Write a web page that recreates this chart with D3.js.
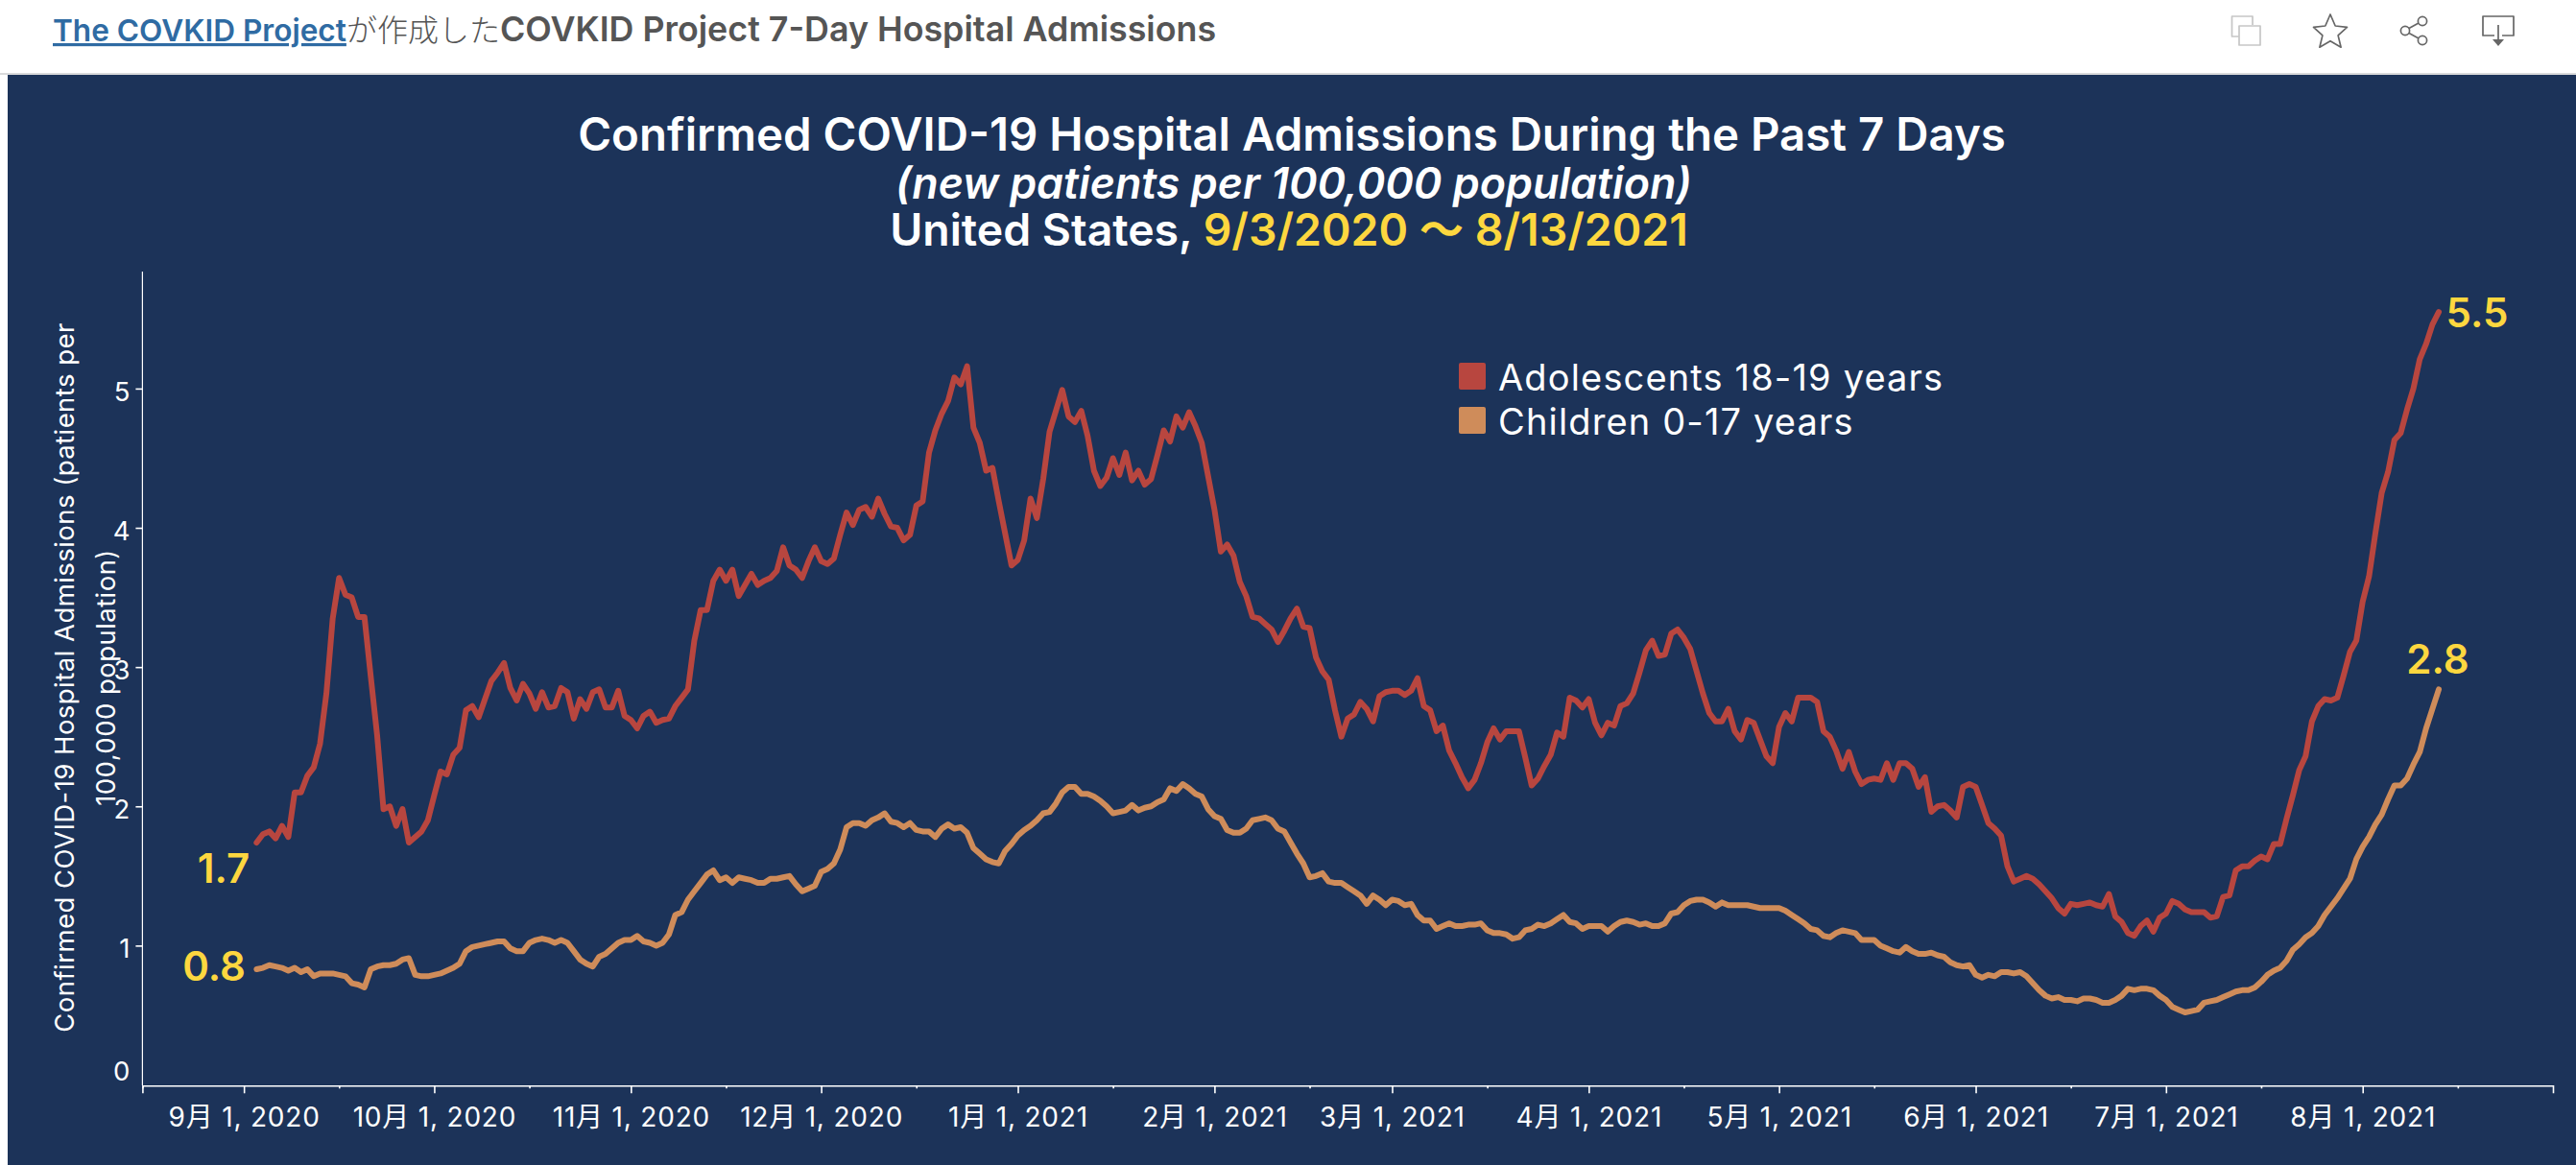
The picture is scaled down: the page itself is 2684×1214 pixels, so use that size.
<!DOCTYPE html>
<html><head><meta charset="utf-8">
<script src="https://cdn.jsdelivr.net/npm/d3@7/dist/d3.min.js"></script>
<style>html,body{margin:0;padding:0;background:#fff;overflow:hidden}svg{display:block}</style>
</head><body><svg id="c" width="2684" height="1214"></svg>
<script>
const firstDate = "2020-09-03";
const adolescents = [1.74,1.80,1.82,1.77,1.86,1.78,2.10,2.10,2.22,2.28,2.45,2.81,3.35,3.64,3.52,3.50,3.36,3.36,2.93,2.51,
1.98,2.00,1.86,1.98,1.74,1.78,1.82,1.90,2.08,2.25,2.23,2.37,2.42,2.69,2.72,2.64,2.77,2.90,2.96,3.03,
2.85,2.76,2.88,2.81,2.70,2.82,2.71,2.72,2.85,2.82,2.63,2.77,2.70,2.82,2.84,2.71,2.71,2.83,2.65,2.62,
2.56,2.65,2.68,2.60,2.62,2.63,2.72,2.78,2.84,3.19,3.41,3.41,3.62,3.70,3.62,3.70,3.51,3.59,3.67,3.59,
3.62,3.64,3.69,3.86,3.73,3.70,3.64,3.76,3.86,3.76,3.74,3.78,3.95,4.11,4.02,4.13,4.15,4.08,4.21,4.10,
4.01,4.00,3.91,3.95,4.16,4.19,4.54,4.70,4.82,4.91,5.08,5.03,5.16,4.72,4.61,4.41,4.43,4.19,3.96,3.73,
3.77,3.91,4.21,4.07,4.35,4.69,4.84,4.99,4.80,4.76,4.84,4.66,4.41,4.30,4.36,4.50,4.38,4.54,4.34,4.41,
4.31,4.35,4.52,4.70,4.62,4.80,4.72,4.83,4.73,4.61,4.37,4.13,3.83,3.88,3.80,3.61,3.51,3.36,3.35,3.31,
3.27,3.18,3.26,3.35,3.42,3.29,3.28,3.07,2.97,2.91,2.69,2.50,2.63,2.66,2.75,2.70,2.61,2.79,2.82,2.83,
2.83,2.80,2.83,2.92,2.72,2.69,2.54,2.58,2.40,2.31,2.21,2.13,2.19,2.31,2.46,2.56,2.48,2.54,2.54,2.54,
2.35,2.15,2.20,2.29,2.37,2.53,2.50,2.78,2.76,2.71,2.77,2.60,2.51,2.60,2.58,2.72,2.74,2.81,2.96,3.12,
3.19,3.08,3.09,3.24,3.27,3.21,3.13,2.97,2.81,2.67,2.61,2.61,2.70,2.54,2.48,2.62,2.60,2.48,2.36,2.31,
2.57,2.67,2.61,2.78,2.78,2.78,2.75,2.54,2.50,2.40,2.27,2.39,2.25,2.16,2.19,2.20,2.19,2.31,2.19,2.31,
2.31,2.27,2.14,2.21,1.96,2.00,2.01,1.97,1.92,2.14,2.16,2.14,2.01,1.88,1.84,1.79,1.57,1.46,1.48,1.50,
1.48,1.44,1.39,1.34,1.27,1.23,1.30,1.29,1.30,1.31,1.29,1.28,1.37,1.21,1.17,1.09,1.07,1.14,1.18,1.10,
1.20,1.23,1.32,1.30,1.26,1.24,1.24,1.24,1.20,1.21,1.35,1.36,1.54,1.57,1.57,1.61,1.64,1.62,1.73,1.73,
1.91,2.08,2.26,2.36,2.61,2.72,2.77,2.76,2.78,2.94,3.11,3.19,3.47,3.65,3.96,4.25,4.40,4.63,4.68,4.85,
5.00,5.21,5.32,5.46,5.55];
const children = [0.83,0.84,0.86,0.85,0.84,0.82,0.84,0.81,0.83,0.78,0.80,0.80,0.80,0.79,0.78,0.73,0.72,0.70,0.83,0.85,
0.86,0.86,0.87,0.90,0.91,0.79,0.78,0.78,0.79,0.80,0.82,0.84,0.87,0.96,0.99,1.00,1.01,1.02,1.03,1.03,
0.98,0.96,0.96,1.02,1.04,1.05,1.04,1.02,1.04,1.02,0.96,0.90,0.87,0.85,0.92,0.94,0.98,1.02,1.04,1.04,
1.07,1.03,1.02,1.00,1.02,1.08,1.22,1.24,1.33,1.39,1.45,1.51,1.54,1.47,1.49,1.45,1.49,1.48,1.47,1.45,
1.45,1.48,1.48,1.49,1.50,1.44,1.39,1.41,1.43,1.53,1.55,1.59,1.69,1.85,1.88,1.88,1.86,1.90,1.92,1.95,
1.89,1.88,1.85,1.88,1.83,1.82,1.82,1.78,1.84,1.87,1.84,1.85,1.81,1.70,1.66,1.62,1.60,1.59,1.68,1.73,
1.79,1.83,1.86,1.90,1.95,1.96,2.02,2.10,2.14,2.14,2.09,2.09,2.07,2.04,2.00,1.95,1.96,1.97,2.01,1.97,
1.99,2.00,2.03,2.05,2.13,2.11,2.16,2.13,2.09,2.07,1.98,1.93,1.91,1.83,1.81,1.81,1.84,1.90,1.91,1.92,
1.90,1.84,1.82,1.74,1.66,1.59,1.49,1.50,1.52,1.46,1.45,1.45,1.42,1.39,1.36,1.30,1.36,1.33,1.29,1.33,
1.32,1.29,1.30,1.22,1.18,1.18,1.12,1.14,1.16,1.14,1.14,1.15,1.15,1.16,1.11,1.09,1.09,1.08,1.05,1.06,
1.11,1.12,1.15,1.14,1.16,1.19,1.22,1.17,1.16,1.12,1.14,1.14,1.14,1.10,1.14,1.17,1.18,1.17,1.15,1.16,
1.14,1.14,1.16,1.23,1.24,1.29,1.32,1.33,1.33,1.31,1.28,1.31,1.29,1.29,1.29,1.29,1.28,1.27,1.27,1.27,
1.27,1.25,1.22,1.19,1.16,1.12,1.11,1.07,1.06,1.09,1.11,1.10,1.09,1.04,1.04,1.04,1.00,0.98,0.96,0.95,
0.99,0.96,0.94,0.94,0.95,0.93,0.92,0.88,0.86,0.85,0.86,0.79,0.77,0.79,0.78,0.81,0.81,0.80,0.81,0.78,
0.73,0.68,0.64,0.62,0.63,0.61,0.61,0.60,0.62,0.62,0.61,0.59,0.59,0.61,0.64,0.69,0.68,0.69,0.69,0.68,
0.64,0.61,0.56,0.54,0.52,0.53,0.54,0.59,0.60,0.61,0.63,0.65,0.67,0.68,0.68,0.70,0.74,0.79,0.82,0.84,
0.89,0.97,1.01,1.06,1.09,1.14,1.22,1.28,1.34,1.41,1.48,1.62,1.71,1.78,1.87,1.94,2.05,2.15,2.15,2.20,
2.30,2.39,2.56,2.70,2.84];
const yTicks = [0,1,2,3,4,5];
const monthTicks = ["2020-09-01","2020-10-01","2020-11-01","2020-12-01","2021-01-01","2021-02-01","2021-03-01","2021-04-01","2021-05-01","2021-06-01","2021-07-01","2021-08-01"];
const midTicks = ["2020-08-16","2020-09-16","2020-10-16","2020-11-16","2020-12-16","2021-01-16","2021-02-16","2021-03-16","2021-04-16","2021-05-16","2021-06-16","2021-07-16","2021-08-16"];
const legendNames = ["Adolescents 18-19 years","Children 0-17 years"];
const seriesColors = ["#b8463f","#cf8c5a"];
const endLabels = ["1.7","0.8","5.5","2.8"];

const NAVY="#1c3359", WHITE="#ffffff", YEL="#fdd73f";
const LATIN="Inter, 'Noto Sans CJK JP', sans-serif";
const svg=d3.select("#c");
const parse=d3.utcParse("%Y-%m-%d");
const start=parse(firstDate);
const dates=adolescents.map((_,i)=>d3.utcDay.offset(start,i));
const x=d3.scaleUtc().domain([parse("2020-08-16"),parse("2021-08-31")]).range([148.4,2660]);
const y=d3.scaleLinear().domain([0,5.84]).range([1130.5,283]);

svg.append("rect").attr("x",0).attr("y",76).attr("width",2684).attr("height",2).attr("fill","#d9dadb");
svg.append("rect").attr("x",8).attr("y",78).attr("width",2676).attr("height",1136).attr("fill",NAVY);

// header
const head=svg.append("text").attr("x",55).attr("y",43).attr("font-family",LATIN).attr("font-size",31.6).attr("font-weight",600);
head.append("tspan").attr("fill","#2f6ba3").attr("text-decoration","underline").text("The COVKID Project");
head.append("tspan").attr("fill","#555").attr("font-weight",300).attr("font-size",32).attr("font-family","'Noto Sans CJK JP'").text("が作成した");
head.append("tspan").attr("fill","#555").attr("font-size",35.8).attr("font-weight",600).text("COVKID Project 7-Day Hospital Admissions");

// icons
const ic=svg.append("g").attr("fill","none").attr("stroke-width",1.7).attr("stroke-linejoin","round");
ic.append("path").attr("stroke","#c6c6c6").attr("d","M2347 26V17h-21.5v21h8M2333 27h22v20h-22z");
ic.append("path").attr("stroke","#666").attr("d","M2428 15l5.2 12 12.3 1.3-9.4 8.6 3 12.3-11.1-6.5-11.1 6.5 3-12.3-9.4-8.6 12.3-1.3z");
const sh=ic.append("g").attr("stroke","#666");
sh.append("circle").attr("cx",2524).attr("cy",22).attr("r",4.6);
sh.append("circle").attr("cx",2524).attr("cy",42).attr("r",4.6);
sh.append("circle").attr("cx",2506).attr("cy",32).attr("r",4.6);
sh.append("path").attr("d","M2510 29.5l10-5.5M2510 34.5l10 5.5");
ic.append("path").attr("stroke","#666").attr("d","M2599 37h-12V17h32v20h-12M2603 26v16");
svg.append("path").attr("fill","#666").attr("d","M2597 41h12l-6 7z");

// title
const title=svg.append("g").attr("text-anchor","middle").attr("font-family",LATIN).attr("fill",WHITE).attr("font-weight",600);
title.append("text").attr("x",1346).attr("y",157).attr("font-size",47.4).text("Confirmed COVID-19 Hospital Admissions During the Past 7 Days");
title.append("text").attr("x",1348).attr("y",207).attr("font-size",44.8).attr("font-style","italic").text("(new patients per 100,000 population)");
const t3=title.append("text").attr("x",1343).attr("y",256).attr("font-size",46.4);
t3.append("tspan").text("United States, ");
t3.append("tspan").attr("fill",YEL).text("9/3/2020 ～ 8/13/2021");

// axes
const ax=svg.append("g").attr("transform","translate(0,1131.3)").call(
  d3.axisBottom(x).tickValues(monthTicks.map(parse)).tickSize(8).tickPadding(0)
    .tickFormat(d=>`${d.getUTCMonth()+1}月 1, ${d.getUTCFullYear()}`));
ax.select(".domain").attr("stroke",WHITE).attr("stroke-width",1.6);
ax.selectAll(".tick line").attr("stroke",WHITE).attr("stroke-width",1.6);
ax.selectAll("text").attr("fill",WHITE).attr("font-family",LATIN).attr("font-size",28).attr("letter-spacing",0.8).attr("y",43).attr("dy",0);
const ax2=svg.append("g").attr("transform","translate(0,1131.3)").call(
  d3.axisBottom(x).tickValues(midTicks.map(parse)).tickSize(3).tickFormat(""));
ax2.select(".domain").remove();
ax2.selectAll(".tick line").attr("stroke",WHITE).attr("stroke-width",1.6);

const ay=svg.append("g").attr("transform","translate(148.4,0)").call(
  d3.axisLeft(y).tickValues(yTicks).tickSize(7).tickPadding(0).tickFormat(d3.format("d")));
ay.select(".domain").attr("stroke",WHITE).attr("stroke-width",1.2).attr("d","M0,283V1131");
ay.selectAll(".tick line").attr("stroke",WHITE).attr("stroke-width",1.6).filter(d=>d===0).remove();
ay.selectAll("text").attr("fill",WHITE).attr("font-family",LATIN).attr("font-size",27.5).attr("x",-13).attr("dy",0)
  .attr("y",d=>d===0?-5:12.5);

const yt=svg.append("text").attr("transform","translate(0,706) rotate(-90)").attr("text-anchor","middle").attr("fill",WHITE).attr("font-family",LATIN).attr("font-size",27.5).attr("letter-spacing",0.45);
yt.append("tspan").attr("x",0).attr("y",77).text("Confirmed COVID-19 Hospital Admissions (patients per");
yt.append("tspan").attr("x",0).attr("y",120).text("100,000 population)");

// lines
const line=d3.line().x((d,i)=>x(dates[i])).y(d=>y(d));
[children,adolescents].forEach((s,k)=>{
  svg.append("path").datum(s).attr("fill","none").attr("stroke",seriesColors[1-k]).attr("stroke-width",6)
    .attr("stroke-linejoin","round").attr("stroke-linecap","round").attr("d",line);
});

// legend
const lg=svg.append("g").selectAll("g").data(legendNames).join("g");
lg.append("rect").attr("x",1520).attr("y",(d,i)=>378+i*46).attr("width",28).attr("height",28).attr("rx",2).attr("fill",(d,i)=>seriesColors[i]);
lg.append("text").attr("x",1561).attr("y",(d,i)=>407+i*46).attr("fill",WHITE).attr("font-family",LATIN).attr("font-size",38).attr("letter-spacing",1.15).text(d=>d);

// end labels
const pos=[[233,920],[223,1022],[2581,341],[2540,702]];
svg.append("g").selectAll("text").data(endLabels).join("text")
  .attr("x",(d,i)=>pos[i][0]).attr("y",(d,i)=>pos[i][1]).attr("text-anchor","middle")
  .attr("fill",YEL).attr("font-family",LATIN).attr("font-weight",600).attr("font-size",42).text(d=>d);
</script></body></html>
